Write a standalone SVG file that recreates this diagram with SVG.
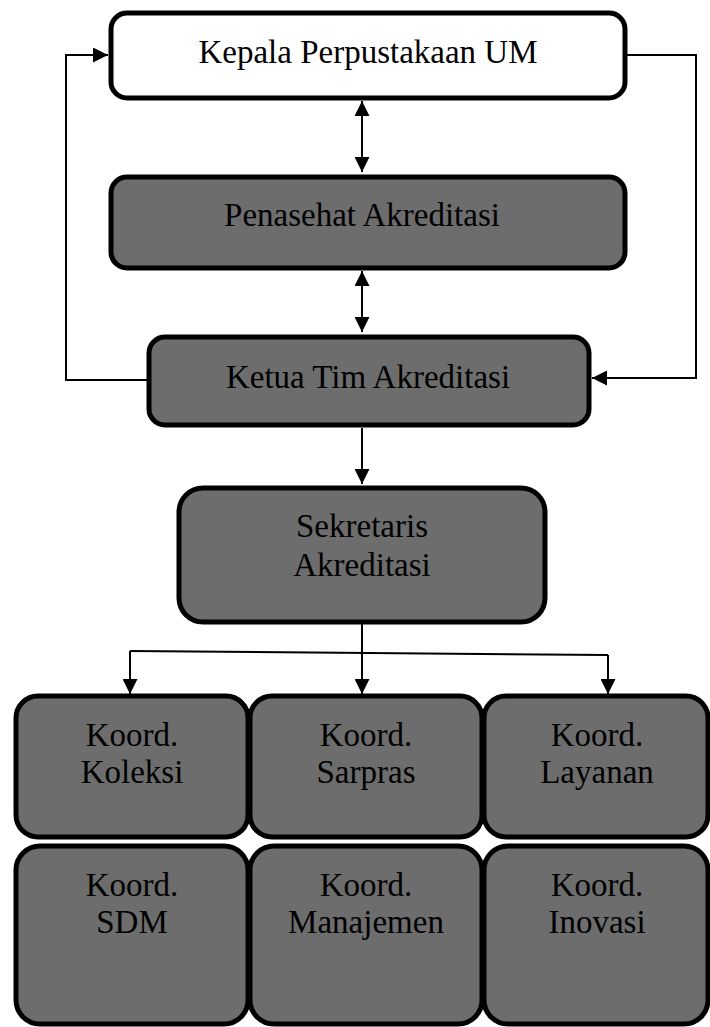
<svg xmlns="http://www.w3.org/2000/svg" width="710" height="1027" viewBox="0 0 710 1027">
<style>
.box{fill:#6d6d6d;stroke:#000;stroke-width:5}
.white{fill:#fff}
.t{font-family:"Liberation Serif","Times New Roman",serif;font-size:33px;fill:#000;text-anchor:middle}
.ln{fill:none;stroke:#000;stroke-width:2}
</style>
<defs>
<marker id="ahb" viewBox="0 0 10 10" refX="10" refY="5" markerWidth="15" markerHeight="15" markerUnits="userSpaceOnUse" orient="auto-start-reverse">
<path d="M0,0 L10,5 L0,10 z" fill="#000"/>
</marker>
</defs>
<g id="connectors">
<line class="ln" x1="362" y1="101" x2="362" y2="172" marker-start="url(#ahb)" marker-end="url(#ahb)"/>
<line class="ln" x1="362" y1="271" x2="362" y2="332" marker-start="url(#ahb)" marker-end="url(#ahb)"/>
<polyline class="ln" points="148,380 66,380 66,55 108,55" marker-end="url(#ahb)"/>
<polyline class="ln" points="626,55 696,55 696,378 592,378" marker-end="url(#ahb)"/>
<line class="ln" x1="362" y1="428" x2="362" y2="484" marker-end="url(#ahb)"/>
<line class="ln" x1="362" y1="624" x2="362" y2="694" marker-end="url(#ahb)"/>
<polyline class="ln" points="130,651 608,655"/>
<line class="ln" x1="130" y1="651" x2="130" y2="694" marker-end="url(#ahb)"/>
<line class="ln" x1="608" y1="655" x2="608" y2="694" marker-end="url(#ahb)"/>
</g>
<g id="kepala"><rect class="box white" x="111" y="13" width="514" height="85" rx="16"/><text class="t" x="368" y="63">Kepala Perpustakaan UM</text></g>
<g id="penasehat"><rect class="box" x="111" y="177" width="514" height="91" rx="16"/><text class="t" x="362" y="226">Penasehat Akreditasi</text></g>
<g id="ketua"><rect class="box" x="149" y="337" width="440" height="88" rx="16"/><text class="t" x="368" y="388">Ketua Tim Akreditasi</text></g>
<g id="sekretaris"><rect class="box" x="179" y="488" width="366" height="134" rx="24"/><text class="t" x="362" y="537">Sekretaris</text><text class="t" x="362" y="576">Akreditasi</text></g>
<g id="koleksi"><rect class="box" x="16" y="696" width="232" height="141" rx="22"/><text class="t" x="132" y="746">Koord.</text><text class="t" x="132" y="783">Koleksi</text></g>
<g id="sarpras"><rect class="box" x="250" y="696" width="232" height="141" rx="22"/><text class="t" x="366" y="746">Koord.</text><text class="t" x="366" y="783">Sarpras</text></g>
<g id="layanan"><rect class="box" x="484" y="696" width="224" height="141" rx="22"/><text class="t" x="597" y="746">Koord.</text><text class="t" x="597" y="783">Layanan</text></g>
<g id="sdm"><rect class="box" x="16" y="846" width="232" height="178" rx="24"/><text class="t" x="132" y="896">Koord.</text><text class="t" x="132" y="933">SDM</text></g>
<g id="manajemen"><rect class="box" x="250" y="846" width="232" height="178" rx="24"/><text class="t" x="366" y="896">Koord.</text><text class="t" x="366" y="933">Manajemen</text></g>
<g id="inovasi"><rect class="box" x="484" y="846" width="224" height="178" rx="24"/><text class="t" x="597" y="896">Koord.</text><text class="t" x="597" y="933">Inovasi</text></g>
</svg>
